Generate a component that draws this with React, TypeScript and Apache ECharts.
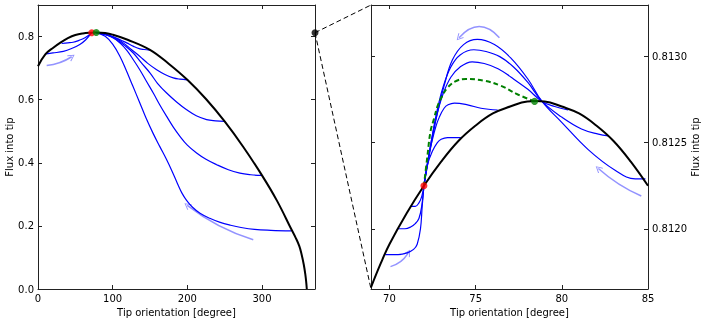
import React, { useEffect, useRef } from 'react';
import * as echarts from 'echarts';

// ---------- ticks & ranges ----------
const LEFT_X_TICKS = [0, 100, 200, 300];
const LEFT_Y_TICKS = [0, 0.2, 0.4, 0.6, 0.8];
const RIGHT_X_TICKS = [70, 75, 80, 85];
const RIGHT_Y_TICKS = [0.812, 0.8125, 0.813];
const LEFT_X_RANGE = [0, 371];
const LEFT_Y_RANGE = [0, 0.9];
const RIGHT_X_RANGE = [68.93, 85];
const RIGHT_Y_RANGE = [0.81165, 0.8133];

// ---------- left panel data ----------
const leftEnvelope: number[][] = [
  [0, 0.706], [10, 0.744], [20, 0.764], [30, 0.781], [40, 0.795], [50, 0.805], [60, 0.810],
  [70, 0.8122], [78, 0.8127], [90, 0.811], [100, 0.806], [120, 0.790], [150, 0.758],
  [175, 0.714], [200, 0.663], [225, 0.602], [250, 0.531], [275, 0.450], [300, 0.360],
  [320, 0.280], [340, 0.186], [345, 0.163], [350, 0.136], [353, 0.110], [356, 0.077],
  [358, 0.047], [359.3, 0.02], [360, 0.0],
];
const leftFrom150: number[][] = [
  [149.9, 0.757], [142, 0.759], [136.5, 0.761], [128, 0.769], [118.7, 0.780], [110, 0.790],
  [100.8, 0.799], [90, 0.807], [78, 0.8127],
];
const leftFrom200: number[][] = [
  [199.9, 0.663], [190, 0.665], [181.2, 0.669], [170, 0.680], [158.9, 0.695], [147, 0.715],
  [136.5, 0.737], [125, 0.759], [114.2, 0.780], [104, 0.795], [96.4, 0.803], [87, 0.809], [78, 0.8127],
];
const leftFrom250: number[][] = [
  [250.3, 0.531], [238, 0.533], [225.8, 0.537], [212, 0.549], [199.1, 0.568], [186, 0.592],
  [172.3, 0.621], [160, 0.652], [149.9, 0.685], [138, 0.718], [127.6, 0.748], [116, 0.772],
  [105.3, 0.790], [92, 0.805], [78, 0.8127],
];
const leftFrom300: number[][] = [
  [299.4, 0.360], [285, 0.362], [270.4, 0.367], [255, 0.378], [239.2, 0.394], [225, 0.411],
  [212.4, 0.431], [200, 0.456], [190.1, 0.484], [181, 0.514], [172.3, 0.547], [163, 0.584],
  [154.4, 0.621], [145, 0.659], [136.5, 0.694], [127, 0.729], [118.7, 0.757], [110, 0.779],
  [100.8, 0.796], [90, 0.807], [78, 0.8127],
];
const leftFrom340: number[][] = [
  [339.6, 0.184], [312, 0.186], [290, 0.189], [272, 0.195], [258, 0.202], [244, 0.211],
  [230, 0.224], [217, 0.240], [207, 0.259], [199, 0.281], [193, 0.303], [187, 0.333],
  [180, 0.371], [172, 0.411], [163, 0.452], [154, 0.494], [145, 0.540], [136, 0.592],
  [127, 0.643], [118, 0.694], [109.8, 0.737], [100, 0.776], [90, 0.801], [78, 0.8127],
];
const leftFrom11: number[][] = [
  [10.7, 0.745], [20, 0.748], [34, 0.753], [45, 0.762], [56, 0.775], [64, 0.790], [72, 0.8122],
];
const leftFrom32: number[][] = [
  [31.7, 0.778], [40, 0.780], [47, 0.782], [55, 0.788], [63, 0.796], [72, 0.8122],
];
const leftRedPoint = [72, 0.8122];
const leftGreenPoint = [78, 0.8127];
const zoomAnchor = [371, 0.8122];

// ---------- right panel data ----------
const rightEnvelope: number[][] = [
  [68.93, 0.81166], [69.5, 0.8118], [70, 0.81191], [71, 0.81209], [72, 0.81225], [73, 0.81239],
  [74, 0.81251], [75, 0.8126], [76, 0.81267], [77, 0.81271], [78, 0.81274], [78.5, 0.812742],
  [79, 0.81274], [80, 0.81271], [81, 0.81267], [82, 0.8126], [83, 0.81251], [84, 0.81239], [85, 0.81225],
];
const rightFrom69: number[][] = [
  [69.76, 0.81185], [70.5, 0.81185], [71.03, 0.81186], [71.4, 0.81188], [71.61, 0.81191],
  [71.8, 0.812], [71.9, 0.81213], [72.0, 0.81225],
];
const rightFrom70: number[][] = [
  [70.45, 0.812], [70.9, 0.812], [71.23, 0.81201], [71.5, 0.81203], [71.71, 0.81206],
  [71.87, 0.81213], [72.0, 0.81225],
];
const rightFrom71: number[][] = [
  [71.23, 0.81213], [71.5, 0.81213], [71.71, 0.81215], [71.88, 0.81219], [72.0, 0.81225],
];
const rightFrom74: number[][] = [
  [74.14, 0.81253], [73.8, 0.81253], [73.37, 0.81253], [73.0, 0.81252], [72.78, 0.8125],
  [72.49, 0.81245], [72.2, 0.81237], [72.0, 0.81225],
];
const rightFrom76: number[][] = [
  [76.28, 0.81269], [75.31, 0.8127], [74.53, 0.81272], [73.77, 0.81273], [73.4, 0.81272],
  [73.17, 0.8127], [72.9, 0.81265], [72.68, 0.81259], [72.45, 0.8125], [72.29, 0.81243], [72.0, 0.81225],
];
const rightFrom80: number[][] = [
  [80.37, 0.81269], [79.59, 0.81271], [78.85, 0.81274], [78.03, 0.81281], [77.06, 0.81288],
  [76.3, 0.81293], [75.5, 0.81296], [74.8, 0.81297], [74.1, 0.81294], [73.56, 0.81288],
  [73.1, 0.81278], [72.75, 0.81266], [72.45, 0.81252], [72.2, 0.81238], [72.0, 0.81225],
];
const rightFrom83: number[][] = [
  [82.7, 0.81254], [82.12, 0.81255], [81.14, 0.81258], [79.98, 0.81265], [78.85, 0.81274],
  [78.03, 0.81285], [77.2, 0.81294], [76.4, 0.813], [75.6, 0.81303], [74.9, 0.81304],
  [74.1, 0.81301], [73.56, 0.81294], [73.1, 0.81282], [72.75, 0.81268], [72.5, 0.81255],
  [72.25, 0.8124], [72.0, 0.81225],
];
const rightFrom85: number[][] = [
  [84.85, 0.81229], [84.26, 0.81229], [83.09, 0.81234], [81.53, 0.81246], [79.98, 0.81262],
  [78.85, 0.81274], [78.03, 0.81287], [77.06, 0.81299], [76.09, 0.81307], [75.1, 0.8131],
  [74.3, 0.81307], [73.65, 0.81298], [73.17, 0.81283], [72.8, 0.81268], [72.55, 0.81256],
  [72.28, 0.81241], [72.0, 0.81225],
];
const rightSeparatrix: number[][] = [
  [78.42, 0.81274], [77.45, 0.81278], [76.48, 0.81283], [75.5, 0.81286], [74.43, 0.81287],
  [73.9, 0.81286], [73.37, 0.81282], [73.0, 0.81276], [72.78, 0.81271], [72.59, 0.81264],
  [72.39, 0.81257], [72.2, 0.81242], [72.0, 0.81225],
];
const rightRedPoint = [72.0, 0.81225];
const rightGreenPoint = [78.42, 0.81274];

// ---------- direction arrows: [from, to, bend] ----------
const leftArrows: [number[], number[], number][] = [
  [[11.6, 0.708], [45.1, 0.736], -0.12],
  [[288.3, 0.156], [199.9, 0.265], 0.09],
];
const rightArrows: [number[], number[], number][] = [
  [[76.38, 0.81311], [74.04, 0.81311], -0.55],
  [[70.06, 0.81178], [71.09, 0.81186], -0.2],
  [[84.61, 0.81219], [82.12, 0.81235], 0.08],
];

const FONT = 'DejaVu Sans';
const SPINE = '#222';
const BLUE = '#0000ff';
const GREEN = '#008000';
const RED = '#ff0000';
const ARROW_COLOR = 'rgba(40,40,255,0.5)';
const ARROW_PATH = 'path://M5,0 L10,8 L9,9 L5,2.2 L1,9 L0,8 Z';

function makeAxis(
  gridIndex: number,
  position: string,
  range: number[],
  ticks: number[],
  labels: boolean,
  fmt: (v: number) => string,
  extra: any = {}
) {
  return {
    type: 'value',
    gridIndex,
    position,
    min: range[0],
    max: range[1],
    axisLine: { show: true, onZero: false, lineStyle: { color: SPINE, width: 1 } },
    axisTick: { show: true, inside: true, length: 4, customValues: ticks, lineStyle: { color: SPINE, width: 1 } },
    axisLabel: {
      show: labels,
      customValues: ticks,
      margin: 4,
      color: '#000',
      fontSize: 10,
      fontFamily: FONT,
      formatter: (v: number) => fmt(v),
    },
    splitLine: { show: false },
    ...extra,
  };
}

function curve(data: number[][], xi: number, yi: number, color: string, width: number, z: number, dashed = false) {
  return {
    type: 'line',
    xAxisIndex: xi,
    yAxisIndex: yi,
    data,
    smooth: 0.4,
    symbol: 'none',
    z,
    lineStyle: { color, width, type: dashed ? [5, 3] : 'solid' },
    silent: true,
  };
}

function dot(point: number[], xi: number, yi: number, color: string) {
  return {
    type: 'scatter',
    xAxisIndex: xi,
    yAxisIndex: yi,
    data: [point],
    symbol: 'circle',
    symbolSize: 7,
    clip: false,
    z: 6,
    itemStyle: { color, borderWidth: 0 },
    silent: true,
  };
}

function arrowSeries(arrows: [number[], number[], number][], xi: number, yi: number) {
  return {
    type: 'lines',
    coordinateSystem: 'cartesian2d',
    xAxisIndex: xi,
    yAxisIndex: yi,
    silent: true,
    z: 2,
    symbol: ['none', ARROW_PATH],
    symbolSize: [7, 7],
    lineStyle: { color: ARROW_COLOR, width: 1.5, opacity: 1 },
    effect: { show: false },
    data: arrows.map((a) => ({
      coords: [a[0], a[1]],
      lineStyle: { curveness: a[2], color: ARROW_COLOR, width: 1.5 },
    })),
  };
}

export default function App() {
  const ref = useRef<HTMLDivElement>(null);
  useEffect(() => {
    if (!ref.current) return;
    const chart = echarts.init(ref.current, undefined, { renderer: 'svg' });
    const nameStyle = { color: '#000', fontSize: 10, fontFamily: FONT };

    chart.setOption({
      animation: false,
      textStyle: { fontFamily: FONT },
      grid: [
        { left: 38, top: 5, width: 277, height: 284 },
        { left: 371, top: 5, width: 277, height: 284 },
      ],
      xAxis: [
        makeAxis(0, 'bottom', LEFT_X_RANGE, LEFT_X_TICKS, true, (v) => String(v), {
          name: 'Tip orientation [degree]',
          nameLocation: 'middle',
          nameGap: 17,
          nameTextStyle: nameStyle,
        }),
        makeAxis(0, 'top', LEFT_X_RANGE, LEFT_X_TICKS, false, (v) => String(v)),
        makeAxis(1, 'bottom', RIGHT_X_RANGE, RIGHT_X_TICKS, true, (v) => String(v), {
          name: 'Tip orientation [degree]',
          nameLocation: 'middle',
          nameGap: 17,
          nameTextStyle: nameStyle,
        }),
        makeAxis(1, 'top', RIGHT_X_RANGE, RIGHT_X_TICKS, false, (v) => String(v)),
      ],
      yAxis: [
        makeAxis(0, 'left', LEFT_Y_RANGE, LEFT_Y_TICKS, true, (v) => v.toFixed(1), {
          name: 'Flux into tip',
          nameLocation: 'middle',
          nameGap: 23,
          nameTextStyle: nameStyle,
        }),
        makeAxis(0, 'right', LEFT_Y_RANGE, LEFT_Y_TICKS, false, (v) => v.toFixed(1)),
        makeAxis(1, 'left', RIGHT_Y_RANGE, RIGHT_Y_TICKS, false, (v) => v.toFixed(4)),
        makeAxis(1, 'right', RIGHT_Y_RANGE, RIGHT_Y_TICKS, true, (v) => v.toFixed(4), {
          name: 'Flux into tip',
          nameLocation: 'middle',
          nameGap: 40,
          nameTextStyle: nameStyle,
        }),
      ],
      series: [
        curve(leftEnvelope, 0, 0, '#000', 2, 4),
        curve(leftFrom150, 0, 0, BLUE, 1.2, 3),
        curve(leftFrom200, 0, 0, BLUE, 1.2, 3),
        curve(leftFrom250, 0, 0, BLUE, 1.2, 3),
        curve(leftFrom300, 0, 0, BLUE, 1.2, 3),
        curve(leftFrom340, 0, 0, BLUE, 1.2, 3),
        curve(leftFrom11, 0, 0, BLUE, 1.2, 3),
        curve(leftFrom32, 0, 0, BLUE, 1.2, 3),
        dot(leftRedPoint, 0, 0, RED),
        dot(leftGreenPoint, 0, 0, GREEN),
        dot(zoomAnchor, 0, 0, '#000'),
        arrowSeries(leftArrows, 0, 0),
        curve(rightEnvelope, 2, 3, '#000', 2, 4),
        curve(rightFrom69, 2, 3, BLUE, 1.2, 3),
        curve(rightFrom70, 2, 3, BLUE, 1.2, 3),
        curve(rightFrom71, 2, 3, BLUE, 1.2, 3),
        curve(rightFrom74, 2, 3, BLUE, 1.2, 3),
        curve(rightFrom76, 2, 3, BLUE, 1.2, 3),
        curve(rightFrom80, 2, 3, BLUE, 1.2, 3),
        curve(rightFrom83, 2, 3, BLUE, 1.2, 3),
        curve(rightFrom85, 2, 3, BLUE, 1.2, 3),
        curve(rightSeparatrix, 2, 3, GREEN, 2, 3, true),
        dot(rightRedPoint, 2, 3, RED),
        dot(rightGreenPoint, 2, 3, GREEN),
        arrowSeries(rightArrows, 2, 3),
      ],
    });

    const p0 = chart.convertToPixel({ xAxisIndex: 0, yAxisIndex: 0 }, zoomAnchor) as number[];
    const p1 = chart.convertToPixel({ xAxisIndex: 2, yAxisIndex: 3 }, [RIGHT_X_RANGE[0], RIGHT_Y_RANGE[1]]) as number[];
    const p2 = chart.convertToPixel({ xAxisIndex: 2, yAxisIndex: 3 }, [RIGHT_X_RANGE[0], RIGHT_Y_RANGE[0]]) as number[];
    const dashStyle = { stroke: '#000', lineWidth: 1, lineDash: [5, 3] };
    chart.setOption({
      graphic: [
        { type: 'line', silent: true, z: 1, shape: { x1: p0[0], y1: p0[1], x2: p1[0], y2: p1[1] }, style: dashStyle },
        { type: 'line', silent: true, z: 1, shape: { x1: p0[0], y1: p0[1], x2: p2[0], y2: p2[1] }, style: dashStyle },
      ],
    });

    return () => chart.dispose();
  }, []);
  return <div ref={ref} style={{ position: 'fixed', left: 0, top: 0, width: 706, height: 323 }} />;
}
